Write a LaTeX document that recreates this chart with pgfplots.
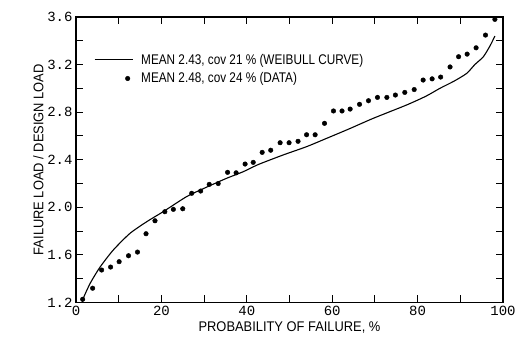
\documentclass[border=0pt]{standalone}
\usepackage{fontspec}
\setmainfont{Liberation Sans}
\setmonofont{Liberation Mono}
\newfontfamily\narrowfont[FakeStretch=0.92]{Liberation Sans}
\newfontfamily\legfont[FakeStretch=0.84]{Liberation Sans}
\usepackage{pgfplots}
\pgfplotsset{compat=1.18}
\begin{document}
\begin{tikzpicture}
\begin{axis}[
  scale only axis,
  width=427pt, height=285.5pt,
  xmin=0, xmax=100, ymin=1.2, ymax=3.6,
  xtick={0,20,...,100},
  minor xtick={10,30,...,90},
  ytick={1.2,1.6,...,3.6},
  minor ytick={1.4,1.8,...,3.4},
  tick align=inside,
  major tick length=7pt, minor tick length=7pt,
  every tick/.style={black, line width=1pt},
  axis line style={line width=1.5pt},
  /pgf/number format/assume math mode=true,
  yticklabel style={/pgf/number format/fixed,/pgf/number format/fixed zerofill,/pgf/number format/precision=1},
  tick label style={font=\ttfamily\fontsize{14}{14}\selectfont},
  xlabel={PROBABILITY OF FAILURE, \%},
  ylabel={FAILURE LOAD / DESIGN LOAD},
  label style={font=\narrowfont\fontsize{14}{14}\selectfont},
  xlabel style={yshift=1pt},
  ylabel style={yshift=-3pt},
  legend style={draw=none, fill=none, at={(0.035,0.885)}, anchor=north west,
    font=\legfont\fontsize{14}{14}\selectfont, row sep=3pt, column sep=6pt},
  legend cell align=left,
]
\addplot[black, line width=1.1pt, smooth, tension=0.4,
  legend image code/.code={\draw[black,line width=1.1pt] (0pt,0pt) -- (38pt,0pt);}]
coordinates {
(1.5,1.2)(1.7,1.235)(3.3,1.36)(5.6,1.496)(8.7,1.64)(12.6,1.78)(16.6,1.88)
(20.4,1.963)(25.9,2.09)(30,2.16)(35,2.24)(39.2,2.30)(42.7,2.36)(48.5,2.44)
(54,2.51)(58.7,2.58)(64,2.66)(69.6,2.748)(77.4,2.86)(82,2.935)(85.2,3.0)
(88.5,3.06)(91.5,3.126)(93.4,3.2)(95.4,3.266)(97.0,3.36)(98.1,3.44)
};
\addlegendentry{MEAN 2.43, cov 21 \% (WEIBULL CURVE)}
\addplot[only marks, mark=*, mark size=2.3pt, black,
  legend image code/.code={\path[draw=none,fill=none] (0pt,0pt) -- (38pt,0pt); \fill[black] (33pt,0pt) circle (2.3pt);}]
coordinates {
(1.56,1.227)(3.9,1.32)(6.0,1.473)(8.1,1.498)(10.1,1.543)(12.3,1.593)(14.4,1.624)
(16.4,1.778)(18.5,1.887)(20.8,1.963)(22.8,1.983)(25.0,1.988)(27.1,2.118)(29.2,2.137)
(31.2,2.193)(33.3,2.20)(35.5,2.294)(37.5,2.29)(39.6,2.364)(41.5,2.378)(43.6,2.462)
(45.6,2.48)(47.8,2.543)(49.9,2.543)(52.0,2.555)(54.0,2.61)(56.0,2.61)(58.2,2.706)
(60.3,2.81)(62.3,2.81)(64.2,2.826)(66.4,2.866)(68.5,2.896)(70.6,2.924)(72.8,2.924)
(74.8,2.944)(77.0,2.966)(79.2,2.99)(81.3,3.07)(83.4,3.08)(85.4,3.095)(87.6,3.18)
(89.6,3.266)(91.6,3.288)(93.7,3.341)(95.9,3.448)(98.1,3.58)
};
\addlegendentry{MEAN 2.48, cov 24 \% (DATA)}
\end{axis}
\pgfresetboundingbox
\path (current axis.south west) ++(-76pt,-46.5pt) coordinate (bbA);
\path (current axis.north east) ++(15pt,17pt) coordinate (bbB);
\path[use as bounding box] (bbA) rectangle (bbB);
\end{tikzpicture}
\end{document}
